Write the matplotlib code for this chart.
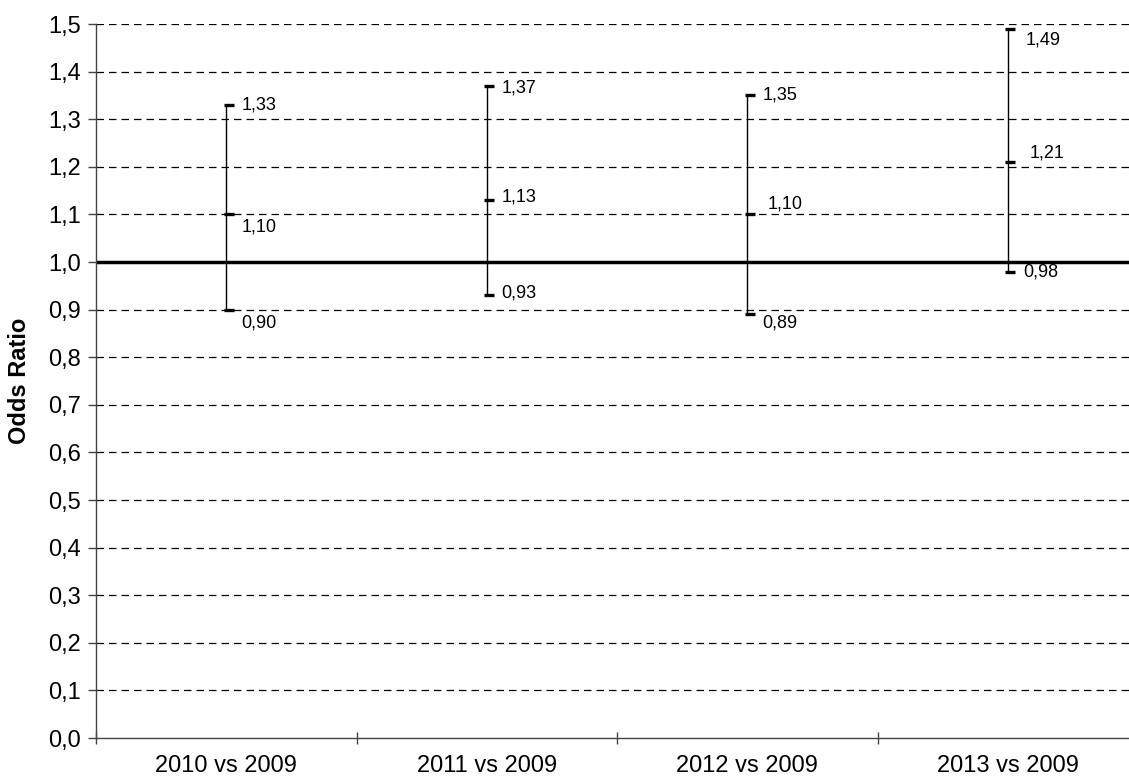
import numpy as np
import matplotlib
matplotlib.use("Agg")
from matplotlib import pyplot as plt

plt.rcParams["font.family"] = ["Liberation Sans", "DejaVu Sans"]

# data
categories = ["2010 vs 2009", "2011 vs 2009", "2012 vs 2009", "2013 vs 2009"]
odds_ratio = [1.10, 1.13, 1.10, 1.21]
ci_low = [0.90, 0.93, 0.89, 0.98]
ci_high = [1.33, 1.37, 1.35, 1.49]
y_ticks = np.round(np.arange(0, 1.51, 0.1), 1)

# label offsets in pixels (dx, dy) for high / mid / low labels
high_off = [(15, 0), (15, -2), (15, 0), (18, -11)]
mid_off = [(15, -13), (15, 3), (20, 10), (22, 9)]
low_off = [(15, -13), (15, 2), (15, -9), (15, 0)]


def fmt(v, d=2):
    return f"{v:.{d}f}".replace(".", ",")


fig = plt.figure(figsize=(11.29, 7.81), dpi=100)
ax = fig.add_axes([96 / 1129, 43 / 781, (1138 - 96) / 1129, 714 / 781])

x = np.arange(len(categories))

# dashed grid lines
for t in y_ticks[1:]:
    ax.axhline(t, color="black", lw=0.9, ls=(0, (6, 4)), zorder=1)

# reference line at 1
ax.axhline(1.0, color="black", lw=2.5, zorder=2)

ax.vlines(x, ci_low, ci_high, color="black", lw=1, zorder=3)
for arr in (ci_low, odds_ratio, ci_high):
    ax.plot(x + 0.01, arr, ls="none", marker="_", ms=7, mew=2.4, color="black", zorder=4)

for i in range(len(categories)):
    for v, off in ((ci_high[i], high_off[i]), (odds_ratio[i], mid_off[i]), (ci_low[i], low_off[i])):
        ax.annotate(fmt(v), (x[i], v), xytext=off, textcoords="offset pixels",
                    ha="left", va="center", fontsize=13)

ax.set_xlim(-0.5, len(categories) - 0.5)
ax.set_ylim(0, 1.5)
ax.set_yticks(y_ticks)
ax.set_yticklabels([fmt(t, 1) for t in y_ticks], fontsize=17)

ax.set_xticks(np.arange(-0.5, len(categories), 1.0))
ax.set_xticklabels([])
ax.set_xticks(x, minor=True)
ax.set_xticklabels(categories, minor=True, fontsize=17)
ax.tick_params(axis="x", which="major", direction="inout", length=9, width=1, color="#444444")
ax.tick_params(axis="x", which="minor", length=0, pad=12)
ax.tick_params(axis="y", direction="out", length=6, width=1, color="#444444", pad=5)

ax.set_ylabel("Odds Ratio", fontsize=17, fontweight="bold", labelpad=12)

for s in ("top", "right"):
    ax.spines[s].set_visible(False)
for s in ("left", "bottom"):
    ax.spines[s].set_color("#444444")
    ax.spines[s].set_linewidth(1)

fig.savefig("out.png", dpi=100)
